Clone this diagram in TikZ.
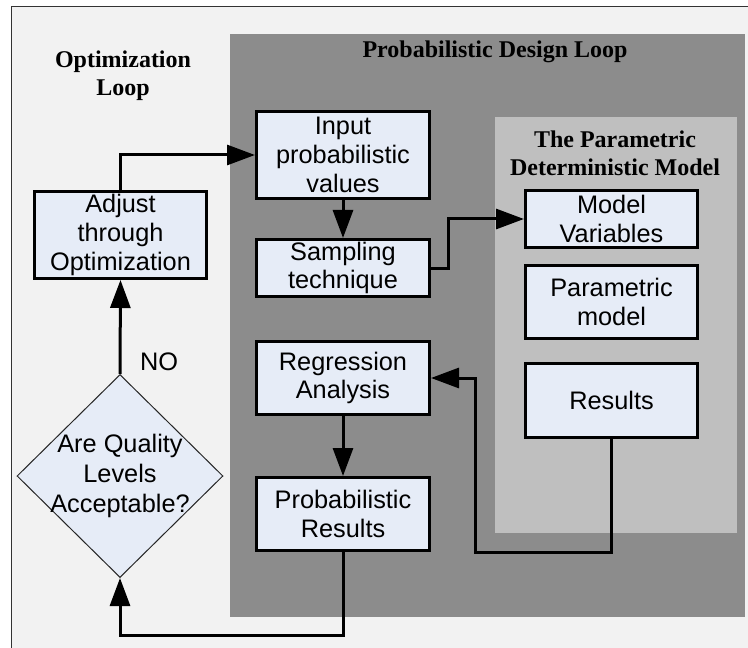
\documentclass[tikz,border=0pt]{standalone}
\usepackage{fontspec}
\setmainfont{Liberation Serif}
\setsansfont{Liberation Sans}
\usetikzlibrary{shapes.geometric}
\usetikzlibrary{arrows.meta}
\definecolor{pagegray}{HTML}{F2F2F2}
\definecolor{loopgray}{HTML}{8C8C8C}
\definecolor{modelgray}{HTML}{BFBFBF}
\definecolor{boxblue}{HTML}{E6ECF7}
\def\pxl{0.75pt}
\def\thick{2.25pt}
\tikzset{
  block/.style={draw, line width=\thick, fill=boxblue, align=center,
    font=\sffamily\fontsize{19}{21.5}\selectfont, inner sep=0pt},
  decision/.style={diamond, draw=black!85, line width=\pxl, fill=boxblue,
    minimum width=206*\pxl, minimum height=203*\pxl, inner sep=0pt},
  conn/.style={line width=\thick, -{Triangle[length=21pt,width=15pt]}},
  heading/.style={font=\bfseries\fontsize{18}{21}\selectfont, align=center},
  txt/.style={font=\sffamily\fontsize{19}{22.5}\selectfont, align=center}
}

\begin{document}
\begin{tikzpicture}[x=\pxl,y=-\pxl]
\useasboundingbox (0,0) rectangle (748,648);

% Frame
\fill[pagegray] (11,7) rectangle (748,648);
\draw[black!80, line width=\pxl] (11,648) -- (11,7) -- (748,7);

% Loops
\fill[loopgray] (230,34) rectangle (745,617);
\fill[modelgray] (495,117) rectangle (737,533);

% Headings
\node[heading] (optloop) at (123,76) {Optimization\\Loop};
\node[heading] (probloop) at (495,52) {Probabilistic Design Loop};
\node[heading] (modeltitle) at (615,153) {The Parametric\\Deterministic Model};

% Blocks
\node[block, minimum width=172*\pxl, minimum height=87*\pxl] (adjust) at (120.5,235) {Adjust\\through\\Optimization};
\node[block, minimum width=173*\pxl, minimum height=87*\pxl] (input) at (343,155) {Input\\probabilistic\\values};
\node[block, minimum width=173*\pxl, minimum height=57*\pxl] (sampling) at (343,268) {Sampling\\technique};
\node[block, minimum width=173*\pxl, minimum height=73*\pxl] (regress) at (343,378) {Regression\\Analysis};
\node[block, minimum width=173*\pxl, minimum height=73*\pxl] (probres) at (343,514) {Probabilistic\\Results};
\node[block, minimum width=172*\pxl, minimum height=57*\pxl] (modelvar) at (611.5,219) {Model\\Variables};
\node[block, minimum width=172*\pxl, minimum height=73*\pxl] (parmodel) at (611.5,302) {Parametric\\model};
\node[block, minimum width=172*\pxl, minimum height=74*\pxl] (results) at (611.5,400.5) {Results};
\node[decision, label={[txt]center:Are Quality\\Levels\\Acceptable?}] (quality) at (120,476) {};

% Connectors
\coordinate (turn) at (475,552);
\draw[conn] (adjust.north) |- (input.west);
\draw[conn] (input) -- (sampling);
\draw[conn] (sampling.east) -- ++(17,0) |- (modelvar.west);
\draw[conn] (results.south) |- (turn) |- (regress.east);
\draw[conn] (regress) -- (probres);
\draw[conn] (probres.south) -- ++(0,83) -| (quality.south);
\draw[conn] (quality.north) -- node[txt, pos=0.13, anchor=west, xshift=14*\pxl] (no) {NO} (adjust.south);

\end{tikzpicture}
\end{document}
